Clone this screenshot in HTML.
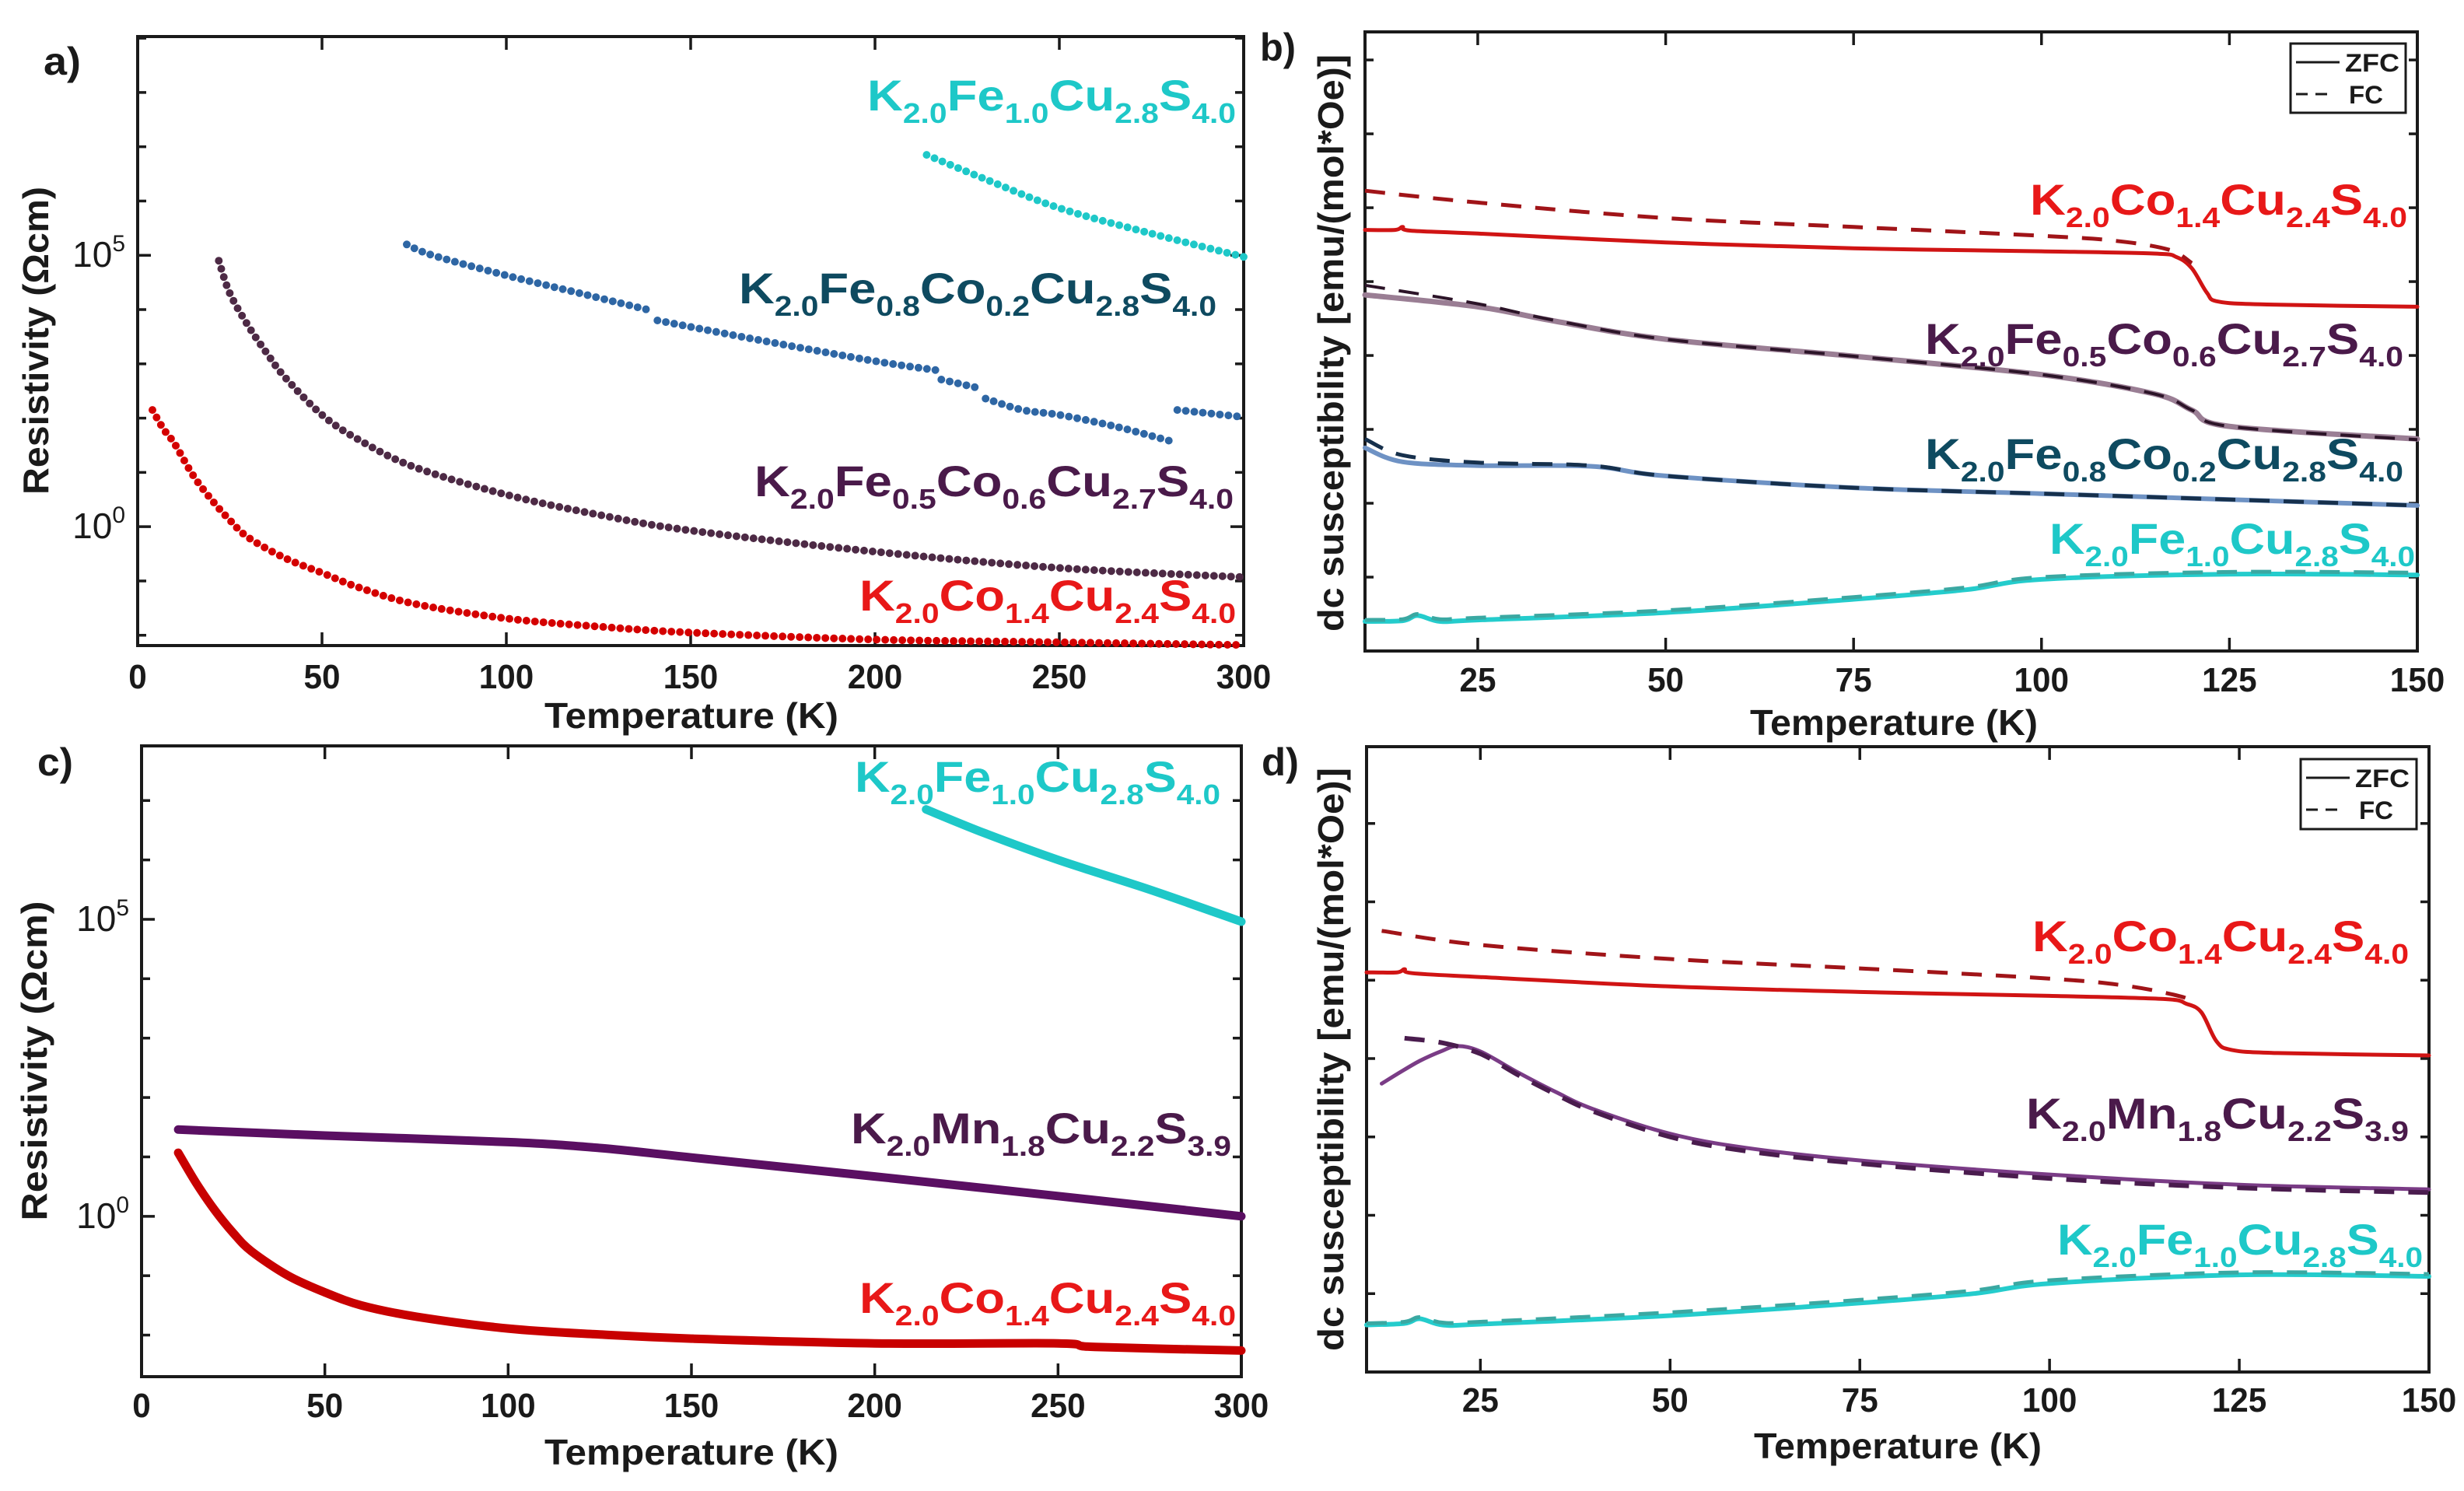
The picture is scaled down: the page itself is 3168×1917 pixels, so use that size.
<!DOCTYPE html>
<html><head><meta charset="utf-8">
<style>
html,body{margin:0;padding:0;background:#fff;}
svg{display:block;}
text{font-family:"Liberation Sans",sans-serif;}
</style></head>
<body>
<svg id="fig" width="3168" height="1917" viewBox="0 0 3168 1917" xmlns="http://www.w3.org/2000/svg">
<rect width="3168" height="1917" fill="#fff"/>
</svg>
<script>
// ---------- DATA ----------
const aRedT = [4,7,10,15,20,25,30,40,50,60,75,100,125,150,200,250,300];
const aRedV = [2.15,1.8,1.53,0.95,0.5,0.12,-0.2,-0.58,-0.85,-1.12,-1.42,-1.69,-1.84,-1.95,-2.08,-2.13,-2.18];
const aPurT = [22,25,30,35,40,50,60,75,100,125,150,200,250,300];
const aPurV = [4.9,4.3,3.7,3.2,2.75,2.06,1.6,1.1,0.59,0.22,-0.07,-0.46,-0.76,-0.93];
const aBlueSeg1T = [73,80,100,120,140];
const aBlueSeg1V = [5.2,5.0,4.63,4.3,3.97];
const aBlueSeg2T = [141,170,200,217];
const aBlueSeg2V = [3.8,3.42,3.05,2.88];
const aBlueSeg3T = [218,229];
const aBlueSeg3V = [2.71,2.54];
const aBlueSeg4T = [230,240,250,265,280];
const aBlueSeg4V = [2.36,2.15,2.06,1.85,1.58];
const aBlueSeg5T = [282,300];
const aBlueSeg5V = [2.15,2.02];
const aCyanT = [214,230,250,275,300];
const aCyanV = [6.85,6.4,5.87,5.4,4.97];
const cRedT = [10,15,20,25,30,40,50,60,75,100,125,150,200,250,260,300];
const cRedV = [1.07,0.55,0.1,-0.28,-0.59,-1.0,-1.28,-1.5,-1.69,-1.89,-1.99,-2.06,-2.14,-2.14,-2.2,-2.26];
const cPurT = [10,50,100,125,150,200,250,300];
const cPurV = [1.46,1.36,1.25,1.15,0.99,0.67,0.34,0.0];
const cCyanT = [214,230,250,275,300];
const cCyanV = [6.85,6.45,6.0,5.5,4.96];
const bRedZT = [10,14,15,16,25,50,75,100,115,118,120,122,123.5,130,150];
const bRedZV = [5.7,5.7,5.74,5.69,5.65,5.53,5.45,5.41,5.38,5.33,5.18,4.85,4.73,4.69,4.66];
const bRedFT = [10,25,50,75,100,110,117,120];
const bRedFV = [6.23,6.07,5.86,5.74,5.62,5.55,5.43,5.25];
const bPurZT = [10,25,35,50,75,100,115,120,125,150];
const bPurZV = [4.82,4.66,4.47,4.22,3.99,3.74,3.48,3.26,3.04,2.87];
const bPurFT = [10,25,35,50,75,100,115,120,125,150];
const bPurFV = [4.95,4.7,4.48,4.22,3.99,3.74,3.48,3.26,3.04,2.86];
const bBluZT = [10,15,25,40,50,75,100,125,150];
const bBluZV = [2.75,2.56,2.51,2.5,2.37,2.21,2.13,2.05,1.97];
const bBluFT = [10,15,25,40,50,75,100,125,150];
const bBluFV = [2.87,2.65,2.55,2.51,2.37,2.21,2.13,2.05,1.97];
const bCyaZT = [10,15,17,20,25,50,75,90,100,125,150];
const bCyaZV = [0.4,0.41,0.48,0.4,0.42,0.52,0.7,0.83,0.97,1.04,1.03];
const bCyaFT = [10,15,17,20,25,50,75,90,100,125,150];
const bCyaFV = [0.42,0.43,0.5,0.43,0.45,0.55,0.73,0.86,1.0,1.07,1.06];
const dRedZT = [10,14,15,16,25,50,75,100,115,118,120,122,124,130,150];
const dRedZV = [5.1,5.1,5.14,5.09,5.04,4.92,4.85,4.8,4.76,4.7,4.59,4.22,4.11,4.07,4.04];
const dRedFT = [12,25,50,75,100,110,117,119];
const dRedFV = [5.63,5.45,5.27,5.15,5.02,4.93,4.8,4.72];
const dPurZT = [12,14,17,20,22,25,30,35,40,50,60,75,100,125,150];
const dPurZV = [3.68,3.8,3.97,4.1,4.16,4.09,3.82,3.57,3.35,3.04,2.86,2.7,2.52,2.39,2.33];
const dPurFT = [15,20,25,30,35,40,50,60,75,100,125,150];
const dPurFV = [4.26,4.2,4.06,3.79,3.54,3.32,3.0,2.82,2.66,2.47,2.35,2.29];
const dCyaZT = [10,15,17,20,25,50,75,90,100,125,150];
const dCyaZV = [0.6,0.62,0.68,0.6,0.61,0.72,0.88,1.0,1.13,1.24,1.22];
const dCyaFT = [10,15,17,20,25,50,75,90,100,125,150];
const dCyaFV = [0.62,0.64,0.7,0.63,0.64,0.76,0.92,1.04,1.17,1.27,1.25];
const resXTicks = [0,50,100,150,200,250,300];
const susXTicks = [25,50,75,100,125,150];

// ---------- RENDERING ----------
const NS = "http://www.w3.org/2000/svg";
const svg = document.getElementById('fig');
function mk(tag, attrs, parent){
  const e = document.createElementNS(NS, tag);
  for (const k in attrs) e.setAttribute(k, attrs[k]);
  (parent||svg).appendChild(e);
  return e;
}
function makePanel(p){
  p.sx = v => p.x0 + (v - p.xmin)/(p.xmax - p.xmin)*(p.x1 - p.x0);
  p.sy = v => p.y1 - (v - p.ymin)/(p.ymax - p.ymin)*(p.y1 - p.y0);
  return p;
}
const A = makePanel({x0:177,x1:1599,y0:47,y1:830,xmin:0,xmax:300,ymin:-2.19,ymax:9.03});
const C = makePanel({x0:182,x1:1596,y0:959,y1:1770,xmin:0,xmax:300,ymin:-2.70,ymax:7.92});
const B = makePanel({x0:1755,x1:3108,y0:41,y1:837,xmin:10,xmax:150,ymin:0,ymax:8.38});
const D = makePanel({x0:1757,x1:3123,y0:960,y1:1764,xmin:10,xmax:150,ymin:0,ymax:7.98});

function smoothPath(p, T, V){
  const pts = T.map((t,i)=>[p.sx(t), p.sy(V[i])]);
  let d = 'M' + pts[0][0].toFixed(1) + ' ' + pts[0][1].toFixed(1);
  for (let i=0;i<pts.length-1;i++){
    const p0 = pts[Math.max(0,i-1)], p1 = pts[i], p2 = pts[i+1], p3 = pts[Math.min(pts.length-1,i+2)];
    const c1 = [p1[0]+(p2[0]-p0[0])/6, p1[1]+(p2[1]-p0[1])/6];
    const c2 = [p2[0]-(p3[0]-p1[0])/6, p2[1]-(p3[1]-p1[1])/6];
    d += ' C'+c1[0].toFixed(1)+' '+c1[1].toFixed(1)+' '+c2[0].toFixed(1)+' '+c2[1].toFixed(1)+' '+p2[0].toFixed(1)+' '+p2[1].toFixed(1);
  }
  return d;
}
function series(p, T, V, style, name){
  const g = mk('path', Object.assign({d:smoothPath(p,T,V), fill:'none', 'stroke-linejoin':'round'}, style));
  
  
  return g;
}
function dots(p,T,V,color,name){ return series(p,T,V,{stroke:color,'stroke-width':10,'stroke-linecap':'round','stroke-dasharray':'0 11'},name); }
function line(p,T,V,color,w,name){ return series(p,T,V,{stroke:color,'stroke-width':w,'stroke-linecap':'round'},name); }
function dash(p,T,V,color,w,name){ return series(p,T,V,{stroke:color,'stroke-width':w,'stroke-dasharray':'26 18'},name); }

function frame(p, xticks, yticks, yMajor, name){
  const g = mk('g', {});
  
  
  mk('rect',{x:p.x0,y:p.y0,width:p.x1-p.x0,height:p.y1-p.y0,fill:'none',stroke:'#1a1a1a','stroke-width':4},g);
  xticks.forEach(t=>{
    const x = p.sx(t);
    mk('line',{x1:x,x2:x,y1:p.y1,y2:p.y1-17,stroke:'#1a1a1a','stroke-width':3.5},g);
    mk('line',{x1:x,x2:x,y1:p.y0,y2:p.y0+17,stroke:'#1a1a1a','stroke-width':3.5},g);
  });
  yticks.forEach(v=>{
    const y = p.sy(v);
    const L = (yMajor && yMajor.includes(v)) ? 17 : 11;
    mk('line',{x1:p.x0,x2:p.x0+L,y1:y,y2:y,stroke:'#1a1a1a','stroke-width':3.5},g);
    mk('line',{x1:p.x1,x2:p.x1-L,y1:y,y2:y,stroke:'#1a1a1a','stroke-width':3.5},g);
  });
  return g;
}
function tickLabels(p, ticks, baseline, name){
  ticks.forEach(t=>{
    const s = String(t);
    const tx = mk('text',{x:p.sx(t), y:baseline, 'text-anchor':'middle','font-size':44,'font-weight':'bold',fill:'#1a1a1a',textLength:s.length*23.5,lengthAdjust:'spacingAndGlyphs'});
    tx.textContent = s;
    
    
  });
}
function decadeLabel(p, exp, name){
  const y = p.sy(exp) + 15;
  const t = mk('text',{x:p.x0-16,y:y,'text-anchor':'end','font-size':46,fill:'#1a1a1a'});
  
  
  const a = mk('tspan',{},t); a.textContent='10';
  const b = mk('tspan',{'font-size':30,dy:-20},t); b.textContent=String(exp);
}
function simpleText(x,y,str,size,len,anchor,name,extra){
  const t = mk('text', Object.assign({x:x,y:y,'font-size':size,'font-weight':'bold',fill:'#1a1a1a','text-anchor':anchor||'start'}, len?{textLength:len,lengthAdjust:'spacingAndGlyphs'}:{}, extra||{}));
  t.textContent = str;
  
  
  return t;
}
function vText(cx,cy,str,size,len,name){
  return simpleText(0,0,str,size,len,'middle',name,{transform:'translate('+cx+','+cy+') rotate(-90)'});
}
function formula(x, baseline, parts, color, len, name){
  const t = mk('text',{x:x,y:baseline,'font-size':56,'font-weight':'bold',fill:color,textLength:len,lengthAdjust:'spacingAndGlyphs'});
  
  
  parts.forEach((pp,i)=>{
    const m = mk('tspan', i>0 ? {dy:-16} : {}, t); m.textContent = pp[0];
    const s = mk('tspan',{'font-size':36,dy:16},t); s.textContent = pp[1];
  });
  return t;
}
function legend(x0,y0,x1,y1,name){
  const g = mk('g',{});
  
  
  mk('rect',{x:x0,y:y0,width:x1-x0,height:y1-y0,fill:'#fff',stroke:'#1a1a1a','stroke-width':3},g);
  mk('line',{x1:x0+7,x2:x0+63,y1:y0+24,y2:y0+24,stroke:'#1a1a1a','stroke-width':3},g);
  mk('line',{x1:x0+7,x2:x0+55,y1:y0+65,y2:y0+65,stroke:'#1a1a1a','stroke-width':3,'stroke-dasharray':'15 10'},g);
  const t1 = mk('text',{x:x0+70,y:y0+36,'font-size':32,'font-weight':'bold',fill:'#1a1a1a',textLength:70,lengthAdjust:'spacingAndGlyphs'},g); t1.textContent='ZFC';
  const t2 = mk('text',{x:x0+75,y:y0+77,'font-size':32,'font-weight':'bold',fill:'#1a1a1a',textLength:44,lengthAdjust:'spacingAndGlyphs'},g); t2.textContent='FC';
}

const cRED='#d40000', cLRED='#e81818', cCYAN='#1ec8c8', cBLUE='#2e66a4', cPURA='#4d2a45', cLBLUE='#0e4a60', cLPUR='#4a1a4a';

// ----- Panel a -----
frame(A, resXTicks, [-2,-1,0,1,2,3,4,5,6,7,8,9], [0,5], 'panel-a-frame');
dots(A,aRedT,aRedV,cRED,'a-series-k2co14');
dots(A,aPurT,aPurV,cPURA,'a-series-k2fe05co06');
dots(A,aBlueSeg1T,aBlueSeg1V,cBLUE,'a-series-k2fe08co02-seg1');
dots(A,aBlueSeg2T,aBlueSeg2V,cBLUE,'a-series-k2fe08co02-seg2');
dots(A,aBlueSeg3T,aBlueSeg3V,cBLUE,'a-series-k2fe08co02-seg3');
dots(A,aBlueSeg4T,aBlueSeg4V,cBLUE,'a-series-k2fe08co02-seg4');
dots(A,aBlueSeg5T,aBlueSeg5V,cBLUE,'a-series-k2fe08co02-seg5');
dots(A,aCyanT,aCyanV,cCYAN,'a-series-k2fe10');
decadeLabel(A,5,'a-ytick-1e5'); decadeLabel(A,0,'a-ytick-1e0');
tickLabels(A,resXTicks,885,'a-xtick-label');
simpleText(889,936,'Temperature (K)',46,378,'middle','a-x-axis-title');
vText(62,438,'Resistivity  (Ωcm)',46,396,'a-y-axis-title');
simpleText(56,96,'a)',50,48,'start','panel-a-letter');
formula(1115,142,[['K','2.0'],['Fe','1.0'],['Cu','2.8'],['S','4.0']],cCYAN,474,'a-label-k2fe10');
formula(950,390,[['K','2.0'],['Fe','0.8'],['Co','0.2'],['Cu','2.8'],['S','4.0']],cLBLUE,614,'a-label-k2fe08co02');
formula(970,638,[['K','2.0'],['Fe','0.5'],['Co','0.6'],['Cu','2.7'],['S','4.0']],cLPUR,616,'a-label-k2fe05co06');
formula(1105,785,[['K','2.0'],['Co','1.4'],['Cu','2.4'],['S','4.0']],cLRED,484,'a-label-k2co14');

// ----- Panel c -----
frame(C, resXTicks, [-2,-1,0,1,2,3,4,5,6,7], [0,5], 'panel-c-frame');
line(C,cRedT,cRedV,'#c80000',11,'c-series-k2co14');
line(C,cPurT,cPurV,'#5a0f62',11,'c-series-k2mn18');
line(C,cCyanT,cCyanV,cCYAN,11,'c-series-k2fe10');
decadeLabel(C,5,'c-ytick-1e5'); decadeLabel(C,0,'c-ytick-1e0');
tickLabels(C,resXTicks,1822,'c-xtick-label');
simpleText(889,1883,'Temperature (K)',46,378,'middle','c-x-axis-title');
vText(60,1364,'Resistivity  (Ωcm)',46,411,'c-y-axis-title');
simpleText(48,997,'c)',50,46,'start','panel-c-letter');
formula(1099,1018,[['K','2.0'],['Fe','1.0'],['Cu','2.8'],['S','4.0']],cCYAN,470,'c-label-k2fe10');
formula(1094,1470,[['K','2.0'],['Mn','1.8'],['Cu','2.2'],['S','3.9']],cLPUR,489,'c-label-k2mn18');
formula(1105,1688,[['K','2.0'],['Co','1.4'],['Cu','2.4'],['S','4.0']],cLRED,484,'c-label-k2co14');

// ----- Panel b -----
frame(B, susXTicks, [1,2,3,4,5,6,7,8], null, 'panel-b-frame');
line(B,bRedZT,bRedZV,'#d01414',5,'b-red-zfc');
dash(B,bRedFT,bRedFV,'#a01418',5,'b-red-fc');
line(B,bPurZT,bPurZV,'#9a7e94',7,'b-purple-zfc');
dash(B,bPurFT,bPurFV,'#2c1428',4,'b-purple-fc');
line(B,bBluZT,bBluZV,'#6e92c4',6,'b-blue-zfc');
dash(B,bBluFT,bBluFV,'#16304c',5,'b-blue-fc');
line(B,bCyaZT,bCyaZV,'#24cccc',6,'b-cyan-zfc');
dash(B,bCyaFT,bCyaFV,'#3aa8a2',5,'b-cyan-fc');
tickLabels(B,susXTicks,889,'b-xtick-label');
simpleText(2435,945,'Temperature (K)',46,370,'middle','b-x-axis-title');
vText(1727,441,'dc susceptibility [emu/(mol*Oe)]',46,742,'b-y-axis-title');
simpleText(1620,78,'b)',50,46,'start','panel-b-letter');
legend(2945,56,3093,145,'b-legend');
formula(2610,276,[['K','2.0'],['Co','1.4'],['Cu','2.4'],['S','4.0']],cLRED,485,'b-label-k2co14');
formula(2475,455,[['K','2.0'],['Fe','0.5'],['Co','0.6'],['Cu','2.7'],['S','4.0']],cLPUR,615,'b-label-k2fe05co06');
formula(2475,603,[['K','2.0'],['Fe','0.8'],['Co','0.2'],['Cu','2.8'],['S','4.0']],cLBLUE,615,'b-label-k2fe08co02');
formula(2635,712,[['K','2.0'],['Fe','1.0'],['Cu','2.8'],['S','4.0']],cCYAN,470,'b-label-k2fe10');

// ----- Panel d -----
frame(D, susXTicks, [1,2,3,4,5,6,7], null, 'panel-d-frame');
line(D,dRedZT,dRedZV,'#d01414',5,'d-red-zfc');
dash(D,dRedFT,dRedFV,'#a01418',5,'d-red-fc');
line(D,dPurZT,dPurZV,'#7a3c86',5,'d-purple-zfc');
dash(D,dPurFT,dPurFV,'#4a1c4e',6,'d-purple-fc');
line(D,dCyaZT,dCyaZV,'#24cccc',6,'d-cyan-zfc');
dash(D,dCyaFT,dCyaFV,'#3aa8a2',5,'d-cyan-fc');
tickLabels(D,susXTicks,1815,'d-xtick-label');
simpleText(2440,1875,'Temperature (K)',46,370,'middle','d-x-axis-title');
vText(1727,1362,'dc susceptibility [emu/(mol*Oe)]',46,750,'d-y-axis-title');
simpleText(1622,997,'d)',50,48,'start','panel-d-letter');
legend(2958,976,3107,1066,'d-legend');
formula(2613,1223,[['K','2.0'],['Co','1.4'],['Cu','2.4'],['S','4.0']],cLRED,484,'d-label-k2co14');
formula(2605,1451,[['K','2.0'],['Mn','1.8'],['Cu','2.2'],['S','3.9']],cLPUR,492,'d-label-k2mn18');
formula(2645,1613,[['K','2.0'],['Fe','1.0'],['Cu','2.8'],['S','4.0']],cCYAN,470,'d-label-k2fe10');
</script>
</body></html>
